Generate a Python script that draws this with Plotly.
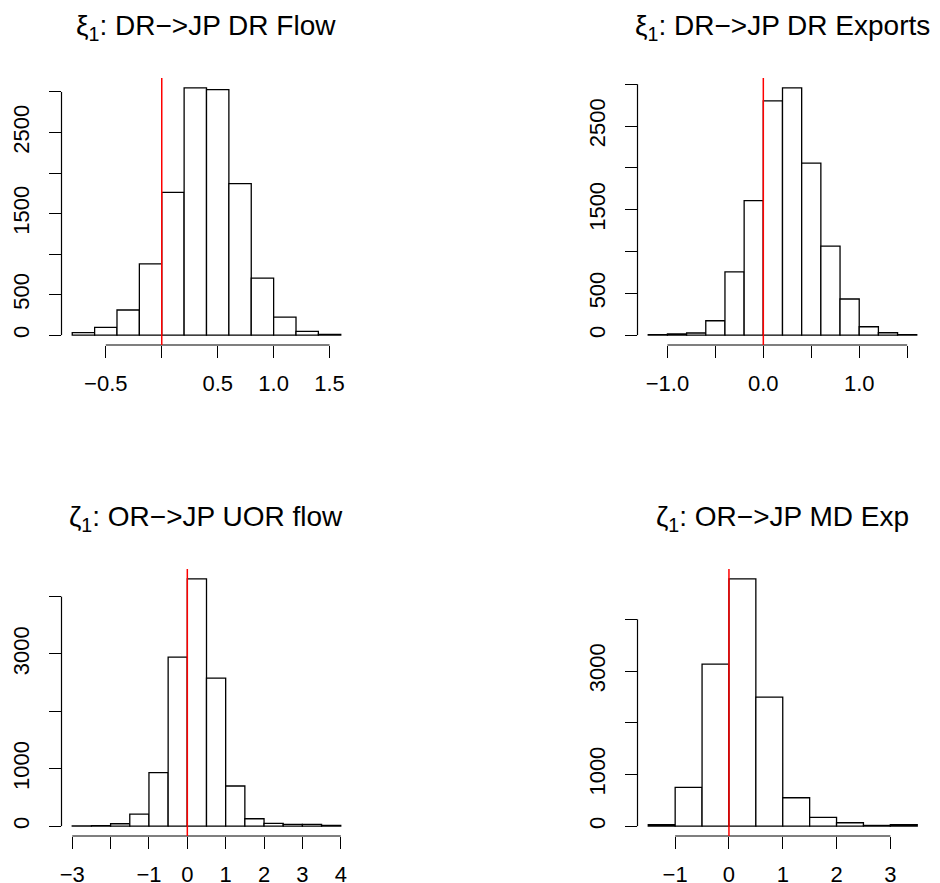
import plotly.graph_objects as go

# histogram bins (start, width) and counts
flow_start, flow_width = -0.8, 0.2
flow_counts = [30, 95, 310, 879, 1762, 3050, 3029, 1870, 702, 223, 45, 10]

exports_start, exports_width = -1.2, 0.2
exports_counts = [5, 15, 25, 172, 756, 1608, 2800, 2956, 2056, 1064, 432, 100, 28, 5]

uor_start, uor_width = -3.0, 0.5
uor_counts = [3, 8, 41, 210, 932, 2946, 4309, 2579, 699, 128, 47, 29, 29, 12]

md_start, md_width = -1.5, 0.5
md_counts = [26, 750, 3134, 4782, 2494, 549, 168, 65, 13, 26]

titles = [
    "ξ<sub>1</sub>: DR−>JP DR Flow",
    "ξ<sub>1</sub>: DR−>JP DR Exports",
    "ζ<sub>1</sub>: OR−>JP UOR flow",
    "ζ<sub>1</sub>: OR−>JP MD Exp",
]

flow_xticks = [-0.5, 0.0, 0.5, 1.0, 1.5]
flow_xlabels = ["−0.5", "", "0.5", "1.0", "1.5"]
exports_xticks = [-1.0, -0.5, 0.0, 0.5, 1.0, 1.5]
exports_xlabels = ["−1.0", "", "0.0", "", "1.0", ""]
uor_xticks = [-3, -2, -1, 0, 1, 2, 3, 4]
uor_xlabels = ["−3", "", "−1", "0", "1", "2", "3", "4"]
md_xticks = [-1, 0, 1, 2, 3]
md_xlabels = ["−1", "0", "1", "2", "3"]

top_yticks = [0, 500, 1000, 1500, 2000, 2500, 3000]
top_ylabels = ["0", "500", "", "1500", "", "2500", ""]
bottom_yticks = [0, 1000, 2000, 3000, 4000]
bottom_ylabels = ["0", "1000", "", "3000", ""]

# the page body adds an 8px margin, so the figure is sized to the rest
OFF = 8
W, H = 940 - OFF, 883 - OFF
FONT = "Liberation Sans, Arial, Helvetica, sans-serif"

panels = [
    (flow_start, flow_width, flow_counts, flow_xticks, flow_xlabels, top_yticks, top_ylabels),
    (exports_start, exports_width, exports_counts, exports_xticks, exports_xlabels, top_yticks, top_ylabels),
    (uor_start, uor_width, uor_counts, uor_xticks, uor_xlabels, bottom_yticks, bottom_ylabels),
    (md_start, md_width, md_counts, md_xticks, md_xlabels, bottom_yticks, bottom_ylabels),
]

# plot regions in screen pixels: (left, right, top, bottom)
regions = [
    (61.5, 351.5, 78, 345),
    (637.5, 927.5, 78, 345),
    (61.5, 351.5, 569, 836),
    (637.5, 928.0, 569, 836),
]

fig = go.Figure()
layout = dict(
    width=W,
    height=H,
    autosize=False,
    margin=dict(l=0, r=0, t=0, b=0),
    paper_bgcolor="white",
    plot_bgcolor="white",
    showlegend=False,
    font=dict(family=FONT, size=22, color="black"),
)
shapes = []
annotations = []

for i, (start, width, counts, xt, xl, yt, yl) in enumerate(panels):
    n = i + 1
    sfx = "" if n == 1 else str(n)
    xa, ya = "x" + sfx, "y" + sfx
    centers = [start + width * (k + 0.5) for k in range(len(counts))]
    fig.add_trace(
        go.Bar(
            x=centers,
            y=counts,
            width=width,
            marker=dict(color="white", line=dict(color="black", width=1.3)),
            xaxis=xa,
            yaxis=ya,
        )
    )

    end = start + width * len(counts)
    pad = (end - start) * 0.04
    ymax = max(counts)
    left, right, top, bottom = [v - OFF for v in regions[i]]

    layout["xaxis" + sfx] = dict(
        domain=[left / W, right / W],
        range=[start - pad, end + pad],
        anchor=ya,
        automargin=False,
        tickvals=xt,
        ticktext=xl,
        ticks="outside",
        ticklen=12,
        tickwidth=1.2,
        tickcolor="black",
        ticklabelstandoff=7,
        showline=False,
        showgrid=False,
        zeroline=False,
        fixedrange=True,
    )
    layout["yaxis" + sfx] = dict(
        domain=[(H - bottom) / H, (H - top) / H],
        range=[-0.04 * ymax, 1.04 * ymax],
        anchor=xa,
        automargin=False,
        tickvals=yt,
        ticktext=yl,
        tickangle=-90,
        ticks="outside",
        ticklen=12,
        tickwidth=1.2,
        tickcolor="black",
        ticklabelstandoff=11,
        showline=False,
        showgrid=False,
        zeroline=False,
        fixedrange=True,
    )

    # axis lines spanning first to last tick, like R's axis()
    shapes.append(dict(type="line", xref=xa, yref=ya + " domain",
                       x0=xt[0], x1=xt[-1], y0=0, y1=0,
                       line=dict(color="black", width=1.2)))
    shapes.append(dict(type="line", xref=xa + " domain", yref=ya,
                       x0=0, x1=0, y0=yt[0], y1=yt[-1],
                       line=dict(color="black", width=1.2)))
    # reference line at zero
    shapes.append(dict(type="line", xref=xa, yref=ya + " domain",
                       x0=0, x1=0, y0=0, y1=1, layer="above",
                       line=dict(color="red", width=1.5)))

    annotations.append(dict(
        text=titles[i], xref=xa + " domain", yref=ya + " domain",
        x=0.5, y=1, xanchor="center", yanchor="bottom", yshift=31,
        showarrow=False, font=dict(family=FONT, size=28, color="black"),
    ))

layout["shapes"] = shapes
layout["annotations"] = annotations
fig.update_layout(**layout)
fig.write_html("out.html")
